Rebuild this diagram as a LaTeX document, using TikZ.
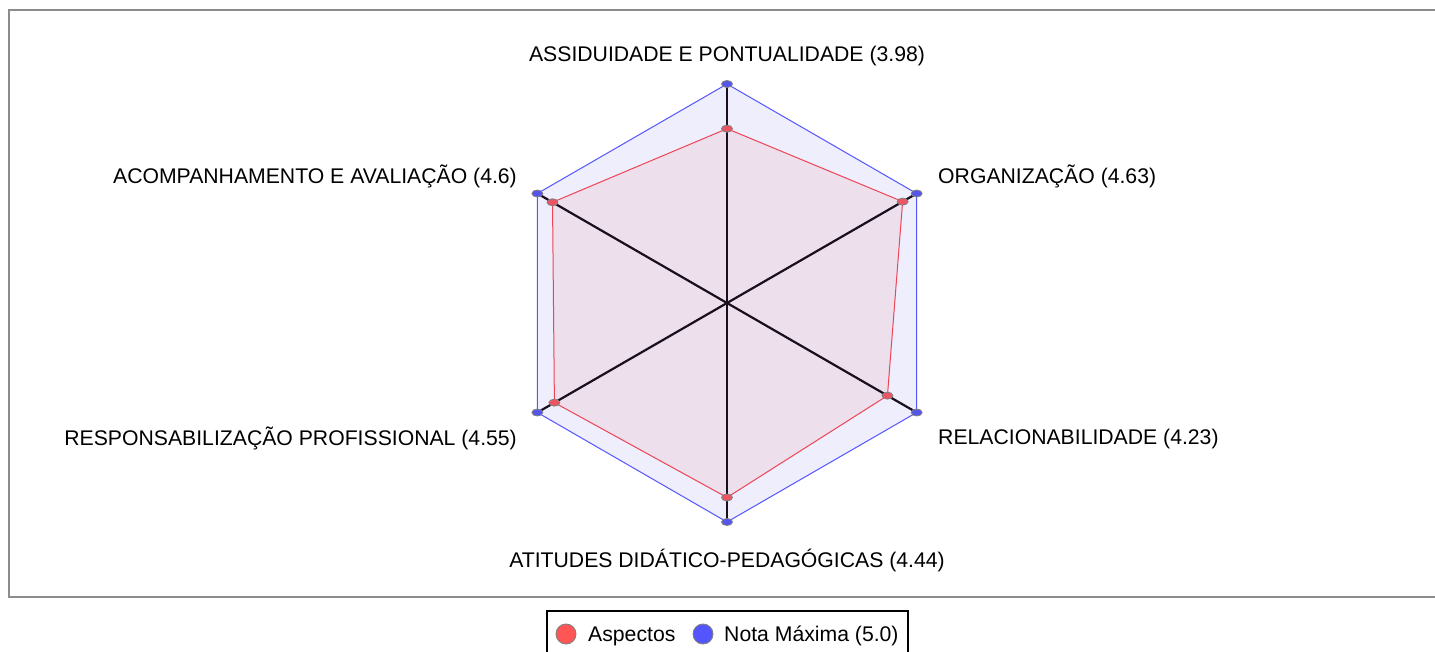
\documentclass[tikz,border=0pt]{standalone}
\usepackage{fontspec}
\setmainfont{Liberation Sans}
\usetikzlibrary{calc,shapes.geometric}
\definecolor{framegray}{RGB}{140,140,140}
\definecolor{axiscol}{RGB}{25,15,30}
\definecolor{maxline}{RGB}{85,85,255}
\definecolor{maxfill}{RGB}{238,238,252}
\definecolor{asline}{RGB}{238,68,85}
\definecolor{asfill}{RGB}{237,223,236}
\definecolor{redm}{RGB}{238,85,100}
\definecolor{bluem}{RGB}{85,85,238}
\definecolor{legred}{RGB}{255,85,85}
\definecolor{legblue}{RGB}{85,85,255}
\begin{document}
\begin{tikzpicture}[x=1pt,y=-1pt,
  lbl/.style={font=\fontsize{21.2}{24}\selectfont, inner sep=0pt},
  axisline/.style={line width=2.2pt, draw=axiscol},
  maxpoly/.style={draw=maxline, line width=1pt, fill=maxfill},
  aspoly/.style={draw=asline, line width=1pt, fill=asfill},
  redmark/.style={ellipse, draw=gray, line width=0.8pt, fill=redm, minimum width=11pt, minimum height=7pt, inner sep=0pt},
  bluemark/.style={ellipse, draw=gray, line width=0.8pt, fill=bluem, minimum width=11pt, minimum height=7pt, inner sep=0pt},
  legdot/.style={circle, draw=gray, line width=0.9pt, minimum size=20pt, inner sep=0pt},
]
\useasboundingbox (0,0) rectangle (1435,652);
\draw[line width=1.6pt, draw=framegray] (1440,10) -- (9,10) -- (9,597) -- (1440,597);
\coordinate (c) at (727,303);
\def\R{219}
% vertices: max and aspect values
\foreach \i/\a/\v in {1/90/3.98,2/30/4.63,3/-30/4.23,4/-90/4.44,5/-150/4.55,6/150/4.6}{
  \coordinate (m\i) at ($(c)+({\R*cos(\a)},{-\R*sin(\a)})$);
  \coordinate (p\i) at ($(c)+({\R*\v/5*cos(\a)},{-\R*\v/5*sin(\a)})$);
}
\path[maxpoly] (m1) -- (m2) -- (m3) -- (m4) -- (m5) -- (m6) -- cycle;
\path[aspoly] (p1) -- (p2) -- (p3) -- (p4) -- (p5) -- (p6) -- cycle;
\foreach \i in {1,...,6}{ \draw[axisline] (c) -- (m\i); }
\foreach \i in {1,...,6}{
  \node[bluemark] (bm\i) at (m\i) {};
  \node[redmark] (rm\i) at (p\i) {};
}
% labels
\node[lbl, anchor=center] (l1) at (727,56.5) {ASSIDUIDADE E PONTUALIDADE (3.98)};
\node[lbl, anchor=west] (l2) at (938,176.5) {ORGANIZAÇÃO (4.63)};
\node[lbl, anchor=west] (l3) at (938,439) {RELACIONABILIDADE (4.23)};
\node[lbl, anchor=center] (l4) at (727,560) {ATITUDES DIDÁTICO-PEDAGÓGICAS (4.44)};
\node[lbl, anchor=east] (l5) at (517,438.5) {RESPONSABILIZAÇÃO PROFISSIONAL (4.55)};
\node[lbl, anchor=east] (l6) at (517,176.5) {ACOMPANHAMENTO E AVALIAÇÃO (4.6)};
% legend
\draw[line width=2pt, black] (547,660) -- (547,611) -- (908,611) -- (908,660);
\node[legdot, fill=legred] (ld1) at (566,634) {};
\node[lbl, anchor=west] (lt1) at (588,636) {Aspectos};
\node[legdot, fill=legblue] (ld2) at (703,634) {};
\node[lbl, anchor=west] (lt2) at (724,636) {Nota Máxima (5.0)};
\end{tikzpicture}
\end{document}
